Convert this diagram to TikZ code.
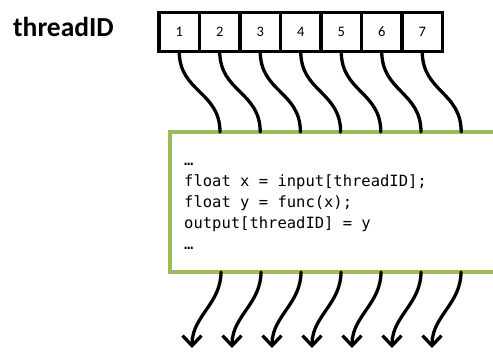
\documentclass[tikz,border=0pt]{standalone}
\usepackage{fontspec}
\setmainfont{Carlito}
\newfontfamily\codefont{DejaVu Sans Mono}
\usetikzlibrary{arrows.meta}
\definecolor{boxgreen}{HTML}{9BBB59}
\tikzset{
  cell/.style={draw=black, line width=3.3pt, minimum width=40.5pt, minimum height=39pt,
    inner sep=0pt, outer sep=0pt, font=\fontsize{14.5}{14.5}\selectfont},
  wire/.style={draw=black, line width=3.3pt, line cap=round},
  outwire/.style={wire, -{Straight Barb[length=10pt,width=19pt,line width=3.3pt]}},
  codebox/.style={draw=boxgreen, line width=3.3pt, fill=white, inner sep=0pt, outer sep=0pt}
}
\begin{document}
\begin{tikzpicture}[x=1pt,y=-1pt]
\clip (0,0) rectangle (493,352);
\fill[white] (0,0) rectangle (493,352);
\node[anchor=base west, inner sep=0pt, font=\bfseries\fontsize{27.5}{27.5}\selectfont] (label) at (13,37) {threadID};
\foreach \i in {1,...,7} {
  \node[cell] (c\i) at ({179.25+40.5*(\i-1)},32) {\i};
}
\node[codebox, minimum width=360pt, minimum height=140pt, anchor=north west] (code) at (170,132) {};
\foreach \i in {1,...,7} {
  \coordinate (in\i) at ({220+40.2*(\i-1)},132);
  \coordinate (out\i) at ({221+40*(\i-1)},272);
  \coordinate (tip\i) at ({192+40*(\i-1)},348);
}
\foreach \i in {1,...,7} {
  \draw[wire] (c\i.south) to[out=-90,in=90,looseness=1.15] (in\i);
  \draw[outwire] (out\i) to[out=-90,in=90] (tip\i);
}
\node[anchor=base west, inner sep=0pt, align=left, font=\codefont\fontsize{15.5}{21}\selectfont] (src) at (184,250)
  {…\\float x = input[threadID];\\float y = func(x);\\output[threadID] = y\\…};
\end{tikzpicture}
\end{document}
